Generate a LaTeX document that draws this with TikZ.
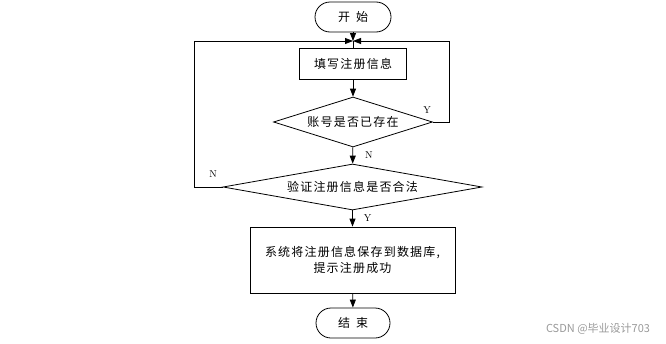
\documentclass[tikz,border=0pt]{standalone}
\usepackage{fontspec}
\newfontfamily\cjk[LetterSpace=10]{Noto Sans CJK SC}
\newfontfamily\cjkmark{Noto Sans CJK SC}
\usetikzlibrary{shapes.geometric,arrows.meta}

\begin{document}
\begin{tikzpicture}[
  x=1pt, y=-1pt,
  font=\cjk\fontsize{12}{16}\selectfont,
  line width=0.8pt,
  term/.style = {draw, rectangle, rounded corners=15pt, minimum width=76pt, minimum height=30pt, inner sep=0pt},
  proc/.style = {draw, rectangle, inner sep=0pt},
  dec/.style  = {draw, diamond, inner sep=0pt},
  arr/.style  = {-{Triangle[length=8pt,width=6pt]}},
  yn/.style   = {font=\rmfamily\fontsize{10}{12}\selectfont, inner sep=0pt},
  wmark/.style = {font=\cjkmark\fontsize{11}{13}\selectfont, text=black!40},
]
\useasboundingbox (0,0) rectangle (666,343);

\def\cx{353}    % centre column x
\def\xl{194}    % x of the left loop back
\def\xr{449}    % x of the right loop back
\def\ym{41}     % y where the loops join

% ---- main column -----------------------------------------------------------
\node[term] (start) at (\cx,17) {开\hspace{6pt}始};
\coordinate (merge) at (\cx,\ym);
\node[proc, minimum width=107pt, minimum height=31pt] (fill) at (\cx,63.5) {填写注册信息};
\node[dec, aspect=3.2, minimum width=159pt, minimum height=50pt] (exist) at (\cx,122) {账号是否已存在};
\node[dec, aspect=5.6, minimum width=259pt, minimum height=46pt] (valid) at (352.5,187) {验证注册信息是否合法};
\node[proc, align=center, minimum width=205pt, minimum height=66pt] (save) at (352.5,260)
  {系统将注册信息保存到数据库,\\提示注册成功};
\node[term, minimum width=74pt] (stop) at (\cx,323) {结\hspace{6pt}束};

\draw[arr] (start) -- (merge);
\draw (merge) -- (fill);
\draw[arr] (fill) -- (exist);
\draw[arr] (exist) -- (valid) node[yn, midway, right=12pt] {N};
\draw[arr] (valid) -- (save) node[yn, midway, right=11pt] {Y};
\draw[arr] (save) -- (stop);

% ---- loops back to the form ------------------------------------------------
\coordinate (rtop) at (\xr,\ym);
\coordinate (ltop) at (\xl,\ym);
\draw[arr] (exist.east) -| (rtop) -- (merge);
\node[yn] (yexist) at (427,110) {Y};
\draw[arr] (valid.west) -| (ltop) -- (merge);
\node[yn] (nvalid) at (213,174) {N};

% ---- watermark -------------------------------------------------------------
\node[wmark] (mark) at (598,329) {CSDN @毕业设计703};

\end{tikzpicture}
\end{document}
